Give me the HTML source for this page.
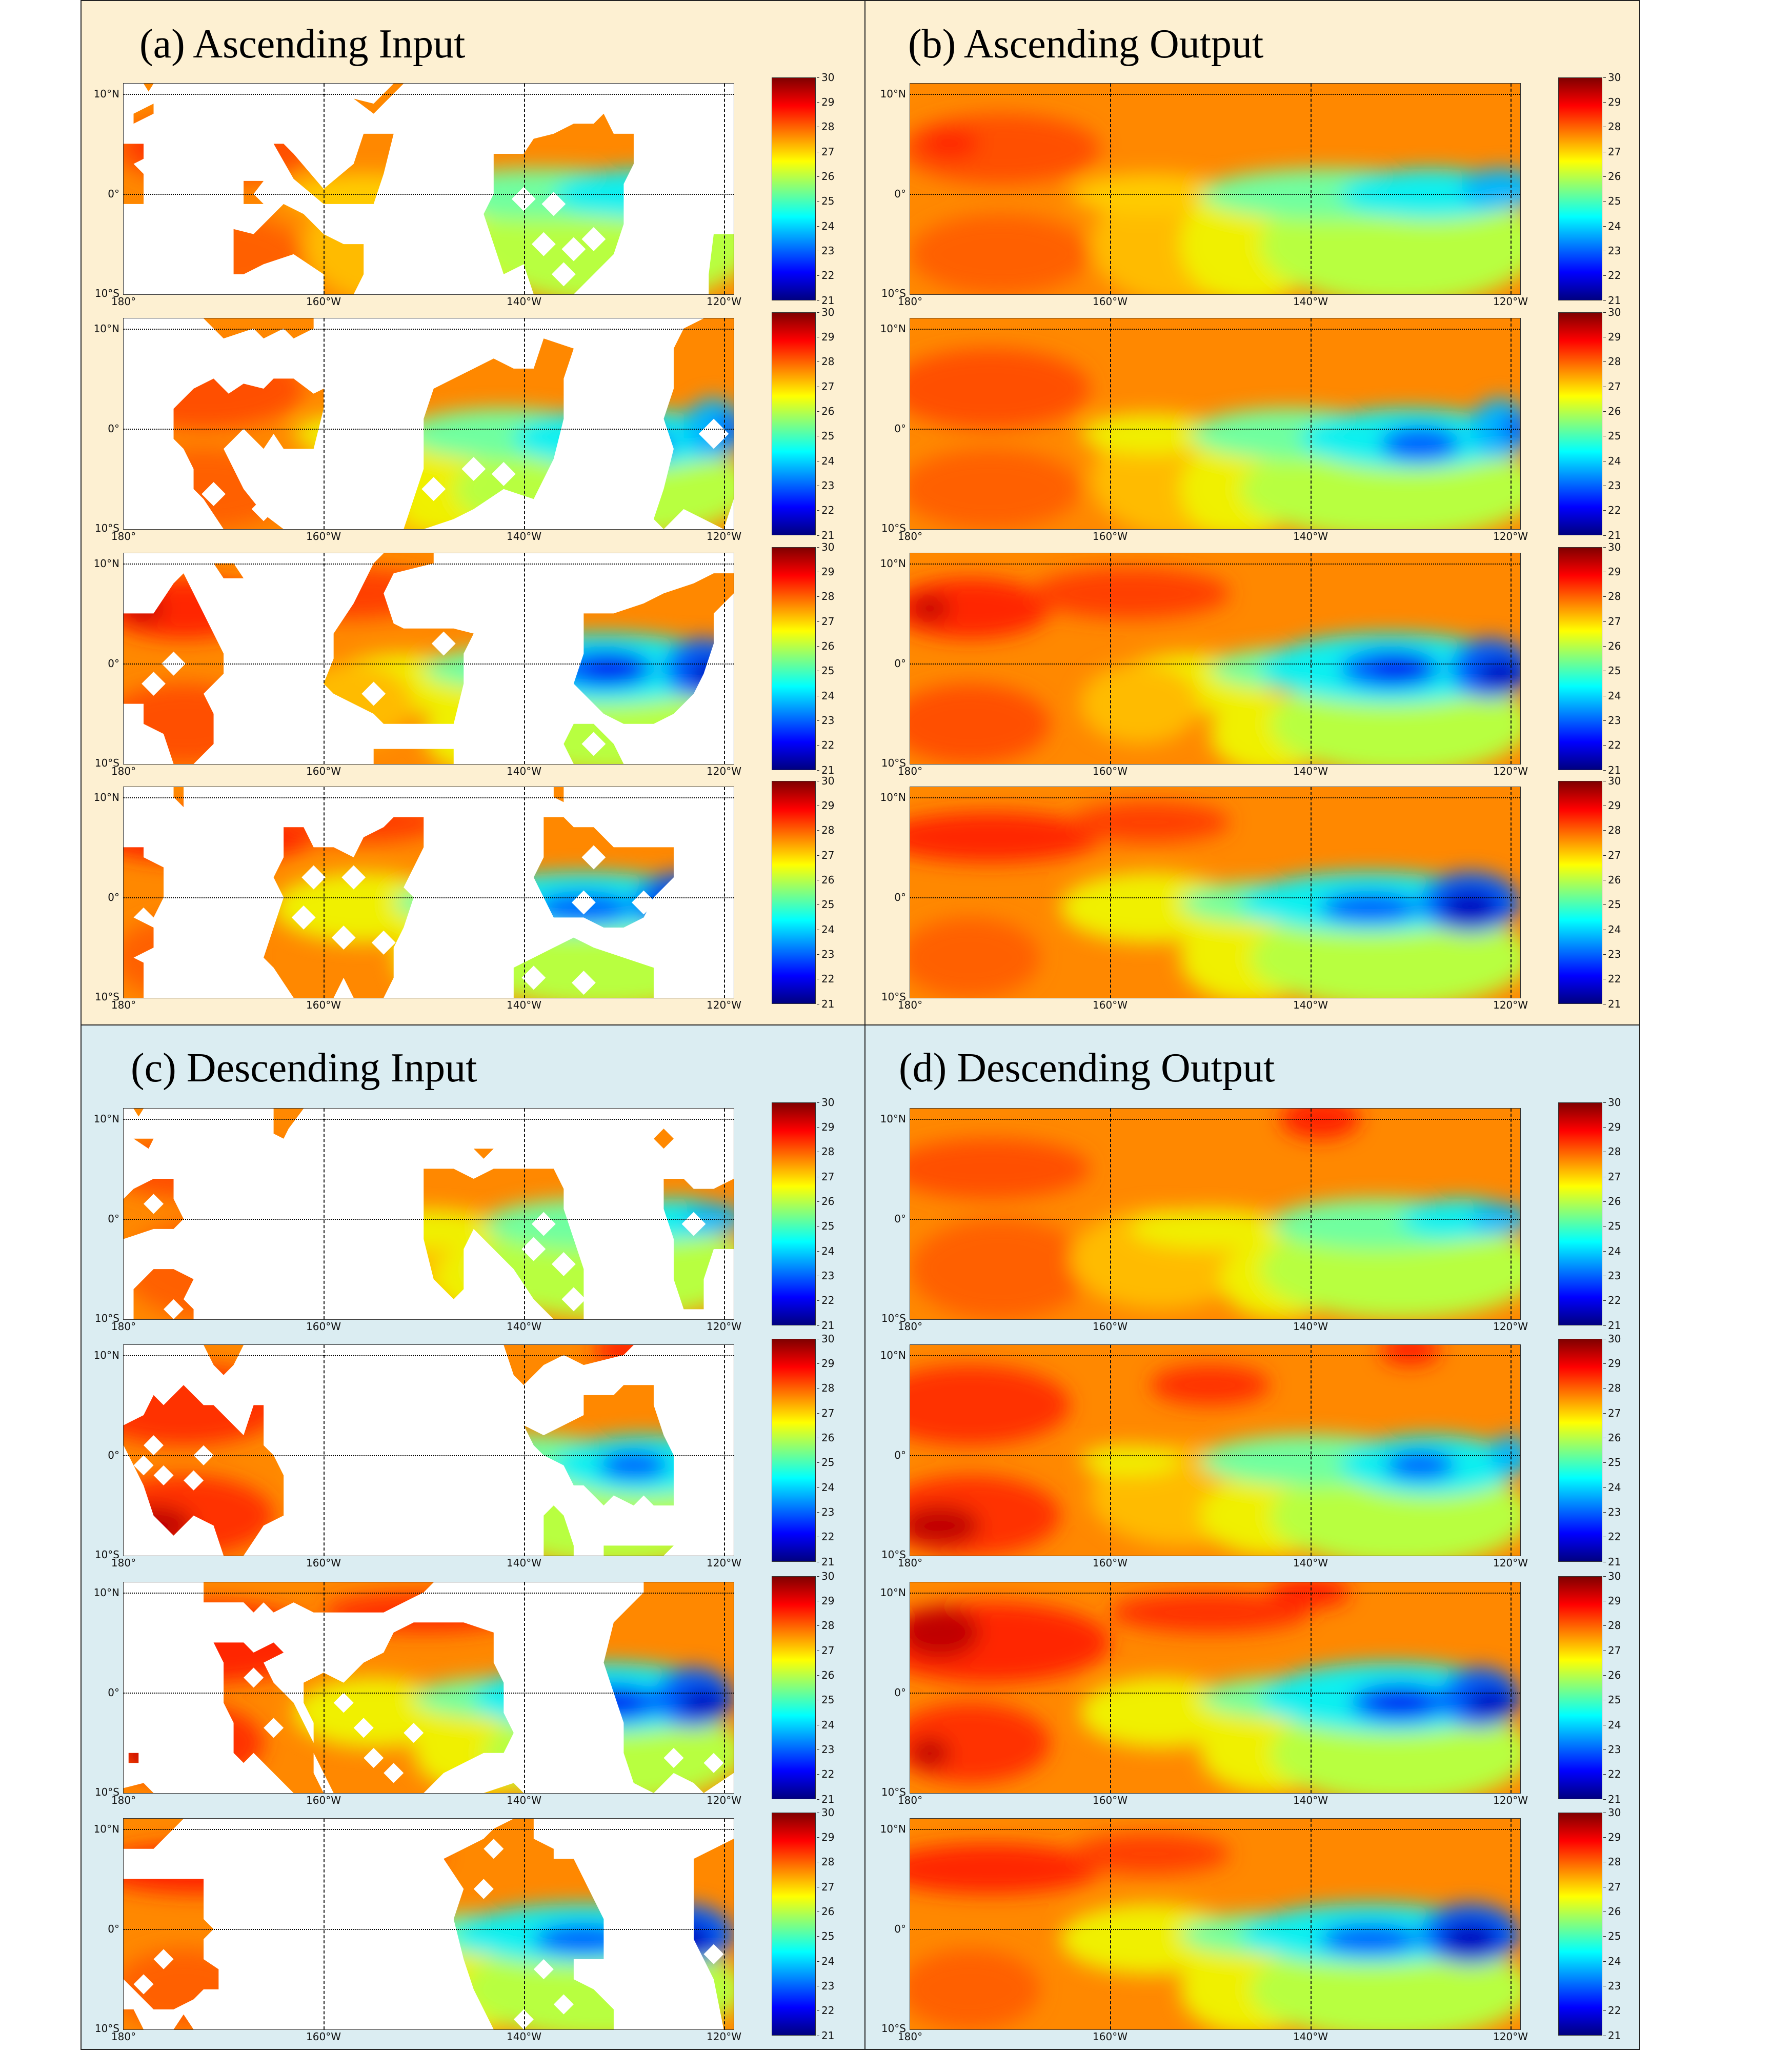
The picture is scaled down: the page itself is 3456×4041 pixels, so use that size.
<!DOCTYPE html>
<html><head><meta charset="utf-8"><style>
body{margin:0;width:3456px;height:4041px;background:#fff;position:relative;overflow:hidden;font-family:"DejaVu Sans",sans-serif}
.p{position:absolute;box-sizing:border-box;border:2px solid #222}
.t{position:absolute;font-family:"Liberation Serif",serif;font-size:80px;color:#000;white-space:nowrap;line-height:1}
.m{position:absolute;width:1190px;height:411px}
.m svg{position:absolute;left:0;top:0;width:1190px;height:411px}
.fr{position:absolute;left:-1px;top:-1px;width:1190px;height:411px;border:1px solid #333}
.h{position:absolute;left:0;width:1190px;height:0;border-top:2px dotted #000}
.v{position:absolute;top:0;height:411px;width:0;border-left:2px dashed #111}
.la{position:absolute;right:1198px;font-size:20px;line-height:24px;color:#111;white-space:nowrap}
.lo{position:absolute;top:413px;width:120px;margin-left:-60px;text-align:center;font-size:20px;line-height:24px;color:#111}
.cb{position:absolute;left:1264px;top:-12px;width:86px;height:435px;border:1px solid #333;box-sizing:border-box;background:linear-gradient(#800000 0%,#ff0000 12.5%,#ffff00 37.5%,#80ff80 50%,#00ffff 62.5%,#0000ff 87.5%,#000080 100%)}
.cl{position:absolute;left:1352px;top:-36.2px;font-size:20px;color:#111}
.cl span{display:block;height:48.33px;line-height:48.33px;position:relative;padding-left:9px}
.cl span:before{content:"";position:absolute;left:0;top:24px;width:5px;border-top:1.5px solid #222}
</style></head><body>
<svg width="0" height="0" style="position:absolute"><defs>
<filter id="bl" filterUnits="userSpaceOnUse" x="-10" y="-10" width="81" height="41"><feGaussianBlur stdDeviation="1"/></filter>
<g id="fB1"><rect x="-1" y="-1" width="63" height="23" fill="#ff8800"/><g filter="url(#bl)">
<ellipse cx="9" cy="6.5" rx="10" ry="3.5" fill="#ff5000"/><ellipse cx="4" cy="6" rx="3" ry="1.5" fill="#ff2800"/><ellipse cx="9" cy="17" rx="9" ry="4" fill="#ff6000"/>
<ellipse cx="27" cy="16" rx="9" ry="6" fill="#ffbb00"/><ellipse cx="24" cy="11" rx="8" ry="2" fill="#ffcc00"/><ellipse cx="34" cy="16" rx="7" ry="6" fill="#f0f000"/>
<ellipse cx="49" cy="16" rx="14" ry="6" fill="#b8ff40"/><ellipse cx="42" cy="11" rx="13" ry="2.5" fill="#70ffa0"/><ellipse cx="52" cy="11" rx="9" ry="2.5" fill="#10f0f0"/><ellipse cx="59" cy="10.5" rx="4" ry="2" fill="#00b8ff"/></g></g>
<g id="fB2"><rect x="-1" y="-1" width="63" height="23" fill="#ff8800"/><g filter="url(#bl)">
<ellipse cx="8" cy="7" rx="10" ry="4" fill="#ff5000"/><ellipse cx="8" cy="17" rx="9" ry="4" fill="#ff6000"/>
<ellipse cx="28" cy="16" rx="10" ry="6" fill="#ffbb00"/><ellipse cx="33" cy="17" rx="6" ry="5" fill="#f0f000"/><ellipse cx="24" cy="11.5" rx="7" ry="2" fill="#f0f000"/>
<ellipse cx="48" cy="17" rx="15" ry="5" fill="#b8ff40"/><ellipse cx="38" cy="11.5" rx="10" ry="2.5" fill="#70ffa0"/><ellipse cx="50" cy="12" rx="11" ry="3" fill="#10f0f0"/>
<ellipse cx="51" cy="12.5" rx="4" ry="1.8" fill="#0060ff"/><ellipse cx="59" cy="11" rx="3" ry="3" fill="#00b8ff"/><ellipse cx="60.5" cy="11" rx="1.5" ry="1.5" fill="#0060ff"/></g></g>
<g id="fB3"><rect x="-1" y="-1" width="63" height="23" fill="#ff8800"/><g filter="url(#bl)">
<ellipse cx="6" cy="5.5" rx="8" ry="3" fill="#ff2800"/><ellipse cx="2" cy="5.5" rx="2" ry="1.2" fill="#c00000"/><ellipse cx="22" cy="4" rx="10" ry="2.5" fill="#ff4000"/>
<ellipse cx="6" cy="17" rx="8" ry="4" fill="#ff5000"/><ellipse cx="28" cy="13" rx="8" ry="3" fill="#f0f000"/><ellipse cx="23" cy="15" rx="6" ry="4" fill="#ffbb00"/><ellipse cx="36" cy="18" rx="6" ry="4" fill="#f0f000"/>
<ellipse cx="49" cy="17" rx="13" ry="5" fill="#b8ff40"/><ellipse cx="38" cy="11.5" rx="8" ry="2" fill="#70ffa0"/><ellipse cx="48" cy="11.5" rx="13" ry="3.5" fill="#10f0f0"/>
<ellipse cx="48" cy="11.5" rx="5" ry="2" fill="#0060ff"/><ellipse cx="49" cy="11.5" rx="3" ry="1.2" fill="#0018f0"/><ellipse cx="58" cy="11.5" rx="4" ry="3" fill="#0060ff"/><ellipse cx="59" cy="12" rx="2.5" ry="1.5" fill="#0000c0"/></g></g>
<g id="fB4"><rect x="-1" y="-1" width="63" height="23" fill="#ff8800"/><g filter="url(#bl)">
<ellipse cx="8" cy="5" rx="11" ry="2.5" fill="#ff2800"/><ellipse cx="24" cy="3.5" rx="8" ry="2" fill="#ff4000"/><ellipse cx="6" cy="17" rx="7" ry="4" fill="#ff6000"/>
<ellipse cx="24" cy="12" rx="9" ry="3.5" fill="#f0f000"/><ellipse cx="34" cy="17" rx="7" ry="4.5" fill="#f0f000"/><ellipse cx="48" cy="17" rx="14" ry="5" fill="#b8ff40"/>
<ellipse cx="35" cy="11.5" rx="8" ry="2" fill="#70ffa0"/><ellipse cx="46" cy="11.5" rx="13" ry="3" fill="#10f0f0"/><ellipse cx="46" cy="12" rx="5" ry="1.6" fill="#0060ff"/>
<ellipse cx="56" cy="11.5" rx="5" ry="3" fill="#0060ff"/><ellipse cx="56" cy="12" rx="3" ry="1.8" fill="#0000c0"/></g></g>
<g id="fD1"><rect x="-1" y="-1" width="63" height="23" fill="#ff8800"/><g filter="url(#bl)">
<ellipse cx="8" cy="6" rx="10" ry="3" fill="#ff5000"/><ellipse cx="41" cy="1" rx="4" ry="2" fill="#ff2000"/><ellipse cx="9" cy="16" rx="9" ry="5" fill="#ff6000"/>
<ellipse cx="25" cy="15" rx="9" ry="5" fill="#ffbb00"/><ellipse cx="30" cy="12" rx="8" ry="2" fill="#f0f000"/><ellipse cx="37" cy="17" rx="6" ry="4" fill="#f0f000"/>
<ellipse cx="49" cy="16" rx="14" ry="5" fill="#b8ff40"/><ellipse cx="47" cy="11.5" rx="11" ry="2.5" fill="#70ffa0"/><ellipse cx="55" cy="11" rx="6" ry="2" fill="#10f0f0"/><ellipse cx="59" cy="11" rx="3" ry="1.5" fill="#00b8ff"/></g></g>
<g id="fD2"><rect x="-1" y="-1" width="63" height="23" fill="#ff8800"/><g filter="url(#bl)">
<ellipse cx="6" cy="6" rx="10" ry="4" fill="#ff3000"/><ellipse cx="30" cy="4" rx="6" ry="2" fill="#ff3000"/><ellipse cx="50" cy="0.5" rx="3" ry="1.5" fill="#ff2000"/>
<ellipse cx="6" cy="17" rx="9" ry="4" fill="#ff3000"/><ellipse cx="3" cy="18" rx="4" ry="2" fill="#c00000"/>
<ellipse cx="27" cy="15" rx="9" ry="5" fill="#ffbb00"/><ellipse cx="36" cy="17" rx="7" ry="4" fill="#f0f000"/><ellipse cx="22" cy="11.5" rx="5" ry="1.5" fill="#f0f000"/>
<ellipse cx="49" cy="17" rx="13" ry="5" fill="#b8ff40"/><ellipse cx="40" cy="11.5" rx="11" ry="2.5" fill="#70ffa0"/><ellipse cx="52" cy="12" rx="9" ry="3" fill="#10f0f0"/>
<ellipse cx="51" cy="12" rx="3.5" ry="1.5" fill="#0060ff"/><ellipse cx="60" cy="11" rx="2" ry="2" fill="#00b8ff"/></g></g>
<g id="fD3"><rect x="-1" y="-1" width="63" height="23" fill="#ff8800"/><g filter="url(#bl)">
<ellipse cx="8" cy="6" rx="12" ry="4" fill="#ff2800"/><ellipse cx="3" cy="5" rx="4" ry="2.5" fill="#c00000"/><ellipse cx="30" cy="3" rx="10" ry="2" fill="#ff3000"/><ellipse cx="40" cy="1" rx="4" ry="1.5" fill="#ff2000"/>
<ellipse cx="6" cy="16" rx="8" ry="4" fill="#ff3000"/><ellipse cx="2" cy="17" rx="2" ry="1.5" fill="#c00000"/>
<ellipse cx="25" cy="13" rx="8" ry="3.5" fill="#f0f000"/><ellipse cx="36" cy="17" rx="7" ry="4" fill="#f0f000"/><ellipse cx="49" cy="17" rx="13" ry="5" fill="#b8ff40"/>
<ellipse cx="38" cy="11.5" rx="9" ry="2" fill="#70ffa0"/><ellipse cx="48" cy="11.5" rx="13" ry="3.5" fill="#10f0f0"/><ellipse cx="49" cy="12" rx="5" ry="2" fill="#0060ff"/><ellipse cx="49" cy="12" rx="3" ry="1" fill="#0018f0"/>
<ellipse cx="57" cy="11.5" rx="4" ry="3" fill="#0060ff"/><ellipse cx="58" cy="12" rx="2.5" ry="1.5" fill="#0000c0"/></g></g>

<mask id="mA1" maskUnits="userSpaceOnUse" x="0" y="0" width="61" height="21"><path fill="#fff" d="M0 6L2 6L2 7.5L1 8L2 9L2 12L0 12ZM2 0L3 0L2.5 .8ZM1 3L3 2L3 3L1 4ZM12 9.7L14 9.7L13 11L14 12L12 12ZM15 6L16 6L17 7L20 10.5L23 8L24 5L27 5L26 9L25 12L20 12L17 9.5ZM23 1.5L25 2L27 0L28 0L25 3ZM11 14.5L13 15L15 13L16 12L18 13L20 15L22 16L24 16L24 19L23 21L20 21L20 19L17 17L14 18L12 19L11 19ZM37 7L40 7L41 5.5L43 5L45 4L47 4L48 3L49 5L51 5L51 8L50 10L50 14L49 17L47 19L45 21L41 21L40 18L38 19L37 16L36 13L37 11ZM59 15L61 15L61 21L58.5 21L58.5 19Z"/><path fill="#000" d="M38.8 11.5L40 10.3L41.2 11.5L40 12.7ZM41.8 12L43 10.8L44.2 12L43 13.2ZM40.8 16L42 14.8L43.2 16L42 17.2ZM43.8 16.5L45 15.3L46.2 16.5L45 17.7ZM45.8 15.5L47 14.3L48.2 15.5L47 16.7ZM42.8 19L44 17.8L45.2 19L44 20.2Z"/></mask>
<mask id="mA2" maskUnits="userSpaceOnUse" x="0" y="0" width="61" height="21"><path fill="#fff" d="M8 0L19 0L19 1L17 2L16 1L14 2L13 1L10 2L9 1ZM7 7L9 6L10.5 7.5L12 6.5L14 7L15 6L17 6L19 7.5L20 7L20 9L19 13L16 13L15 11.5L14 13L12 11L10 13L11 15L12 17L14 19.5L16 21L10 21L8 18L7 17L7 15L6 13L5 12L5 9ZM31 7L33 6L35 5L37 4L39 5L41 5L42 2L45 3L44 6L44 10L43 14L42 16L41 18L38 17L35 19L33 20L30 21L28 21L29 18L30 15L30 10ZM55 3L56 1L58 0L61 0L61 18L60 21L58 20L56 19L54 21L53 20L54 17L55 13L54 10L55 7Z"/><path fill="#000" d="M7.8 17.5L9 16.3L10.2 17.5L9 18.7ZM12.8 19L14 17.8L15.2 19L14 20.2ZM29.8 17L31 15.8L32.2 17L31 18.2ZM33.8 15L35 13.8L36.2 15L35 16.2ZM36.8 15.5L38 14.3L39.2 15.5L38 16.7ZM57.5 11.5L59 10L60.5 11.5L59 13Z"/></mask>
<mask id="mA3" maskUnits="userSpaceOnUse" x="0" y="0" width="61" height="21"><path fill="#fff" d="M0 6L3 6L5 3L6 2L7 4L8 6L9 8L10 10L10 12L8 14L9 16L9 19L7 21L5 21L4 18L2 17L2 15L0 15ZM9 1L11 1L12 2.5L10 2.5ZM23 5L24 3L25 1L26 0L31 0L31 1L27 2L26 4L27 7L28 7.5L33 7.5L35 8L34 10L34 13L33 17L26 17L25 16L21 14L20 13L21 10.5L21 8ZM25 19.5L33 19.5L33 21L25 21ZM46 6L49 6L52 5L54 4L57 3L59 2L61 2L61 4L59 6L59 9L58 12L57 14L55 16L53 17L50 17L48 16L46 14L45 13L46 10ZM45 17L47 17L49 19L50 21L45 21L44 19Z"/><path fill="#000" d="M3.8 11L5 9.8L6.2 11L5 12.2ZM1.8 13L3 11.8L4.2 13L3 14.2ZM30.8 9L32 7.8L33.2 9L32 10.2ZM23.8 14L25 12.8L26.2 14L25 15.2ZM45.8 19L47 17.8L48.2 19L47 20.2Z"/></mask>
<mask id="mA4" maskUnits="userSpaceOnUse" x="0" y="0" width="61" height="21"><path fill="#fff" d="M5 0L6 0L6 2L5 1ZM0 6L2 6L2 7L4 8L4 11L3 13L2 12L1 13L3 14L3 16L1 17L2 17.5L2 21L0 21ZM16 4L18 4L19 6L21 6L23 7L24 5L26 4L27 3L30 3L30 6L29 8L28 10L29 11L28 14L27 16L27 19L26 21L23 21L22 19L21 21L17 21L15 18L14 17L15 14L16 11L15 9L16 7ZM43 0L44 0L44 1.5L43 1ZM42 3L44 3L45 4L47 4L49 6L51 6L55 6L55 9L53 11L52 13L50 14L48 14L46 13L43 13L42 11L41 9L42 7ZM39 18L41 17L43 16L45 15L47 16L50 17L53 18L53 21L39 21Z"/><path fill="#000" d="M17.8 9L19 7.8L20.2 9L19 10.2ZM21.8 9L23 7.8L24.2 9L23 10.2ZM20.8 15L22 13.8L23.2 15L22 16.2ZM24.8 15.5L26 14.3L27.2 15.5L26 16.7ZM16.8 13L18 11.8L19.2 13L18 14.2ZM45.8 7L47 5.8L48.2 7L47 8.2ZM44.8 11.5L46 10.3L47.2 11.5L46 12.7ZM50.8 11.5L52 10.3L53.2 11.5L52 12.7ZM39.8 19L41 17.8L42.2 19L41 20.2ZM44.8 19.5L46 18.3L47.2 19.5L46 20.7Z"/></mask>
<mask id="mC1" maskUnits="userSpaceOnUse" x="0" y="0" width="61" height="21"><path fill="#fff" d="M1 0L2 0L1.5 .8ZM1 3L3 3L2.5 4ZM15 0L18 0L16.5 2L16 3L15 2.5ZM1 8L3 7L5 7L5 9L6 11L5 12L3 12L0 13L0 9ZM1 18L3 16L5 16L7 17L6 19L7 20L7 21L1 21ZM35 4L37 4L36 5ZM30 6L33 6L35 7L37 6L39 6L41 6L43 6L44 8L44 10L45 13L46 16L46 21L43 21L41 19L39 16L37 14L35 12L34 14L34 18L33 19L31 17L30 13L30 10ZM53 3L54 2L55 3L54 4ZM54 7L56 7L57 8L59 8L61 7L61 14L59 14L58 17L58 20L56 20L55 17L55 13L54 10Z"/><path fill="#000" d="M2 9.5L3 8.5L4 9.5L3 10.5ZM4 20L5 19L6 20L5 21ZM40.8 11.5L42 10.3L43.2 11.5L42 12.7ZM39.8 14L41 12.8L42.2 14L41 15.2ZM42.8 15.5L44 14.3L45.2 15.5L44 16.7ZM43.8 19L45 17.8L46.2 19L45 20.2ZM55.8 11.5L57 10.3L58.2 11.5L57 12.7Z"/></mask>
<mask id="mC2" maskUnits="userSpaceOnUse" x="0" y="0" width="61" height="21"><path fill="#fff" d="M0 8L2 7L3 5L4 6L5 5L6 4L7 5L8 6L9 6L10 7L11 8L12 9L13 6L14 6L14 10L15 11L16 13L16 17L14 18L12 21L10 21L9 18L7 17L6 18L5 19L4 18L3 17L2 14L1 12L0 10ZM8 0L12 0L11 2L10 3L9 2ZM38 0L51 0L50 1L46 2L44 1L42 2L40 4L39 3ZM40 8L42 9L44 8L46 7L46 5L49 5L50 4L53 4L53 6L54 9L55 11L55 16L53 16L52 15L51 16L49 15L48 16L46 14L45 14L44 12L42 11L41 10ZM42 17L43 16L44 17L45 20L45 21L42 21ZM48 20L55 20L54 21L48 21Z"/><path fill="#000" d="M2 10L3 9L4 10L3 11ZM1 12L2 11L3 12L2 13ZM3 13L4 12L5 13L4 14ZM6 13.5L7 12.5L8 13.5L7 14.5ZM7 11L8 10L9 11L8 12Z"/></mask>
<mask id="mC3" maskUnits="userSpaceOnUse" x="0" y="0" width="61" height="21"><path fill="#fff" d="M8 0L31 0L30 1L28 2L26 3L23 3L19 3L17 2L15 3L14 2L13 3L12 2L10 2L8 2ZM9 6L12 6L13 7L15 6L16 7L14 8L15 10L17 12L18 14L19 16L19 19L20 21L17 21L15 19L13 17L12 18L11 17L11 14L10 12L10 8ZM18 10L20 9L22 10L24 8L26 7L27 5L29 4L32 4L34 4L37 5L37 8L38 10L38 13L39 15L38 17L36 17L34 18L32 19L30 21L24 21L21 21L20 19L19 17L19 14L18 12ZM36 21L39 20L40 21ZM49 4L50 3L51 2L52 1L52 0L61 0L61 19L58 21L57 20L55 19L53 21L51 20L50 17L50 14L49 11L48 8ZM.5 17L1.5 17L1.5 18L.5 18ZM0 20.5L2 20L3 21L0 21Z"/><path fill="#000" d="M12 9.5L13 8.5L14 9.5L13 10.5ZM14 14.5L15 13.5L16 14.5L15 15.5ZM21 12L22 11L23 12L22 13ZM23 14.5L24 13.5L25 14.5L24 15.5ZM28 15L29 14L30 15L29 16ZM24 17.5L25 16.5L26 17.5L25 18.5ZM26 19L27 18L28 19L27 20ZM54 17.5L55 16.5L56 17.5L55 18.5ZM58 18L59 17L60 18L59 19Z"/></mask>
<mask id="mC4" maskUnits="userSpaceOnUse" x="0" y="0" width="61" height="21"><path fill="#fff" d="M0 0L6 0L4 2L3 3L0 3ZM0 6L8 6L8 10L9 11L8 12L8 14L9.5 15L9.5 17L8 17L7 18L5 19L3 19L2 18L0 16ZM0 19L1 19L2 21L0 21ZM5 21L6 19.5L7 21ZM34 3L36 2L37 1L39 0L41 0L41 2L43 3L43 4L45 4L46 6L47 8L48 10L48 12L48 14L45 14L45 16L47 17L49 19L49 21L37 21L36 19L35 17L34 14L33 10L34 7L32 4ZM57 4L59 3L61 2L61 21L60 21L59 16L58 14L57 12Z"/><path fill="#000" d="M1 16.5L2 15.5L3 16.5L2 17.5ZM3 14L4 13L5 14L4 15ZM36 3L37 2L38 3L37 4ZM35 7L36 6L37 7L36 8ZM41 15L42 14L43 15L42 16ZM43 18.5L44 17.5L45 18.5L44 19.5ZM39 20L40 19L41 20L40 21ZM58 13.5L59 12.5L60 13.5L59 14.5Z"/></mask>
</defs></svg>

<div class="p" style="left:157px;top:0;width:1531px;height:2000px;background:#fdf0d2"></div>
<div class="p" style="left:1686px;top:0;width:1513px;height:2000px;background:#fdf0d2"></div>
<div class="p" style="left:157px;top:1998px;width:1531px;height:2000px;background:#dbedf2"></div>
<div class="p" style="left:1686px;top:1998px;width:1513px;height:2000px;background:#dbedf2"></div>
<div class="t" style="left:272px;top:46px">(a) Ascending Input</div>
<div class="t" style="left:1771px;top:46px">(b) Ascending Output</div>
<div class="t" style="left:255px;top:2043px">(c) Descending Input</div>
<div class="t" style="left:1753px;top:2043px">(d) Descending Output</div>

<!-- A -->
<div class="m" style="left:241px;top:163px"><svg viewBox="0 0 61 21" preserveAspectRatio="none"><rect width="61" height="21" fill="#fff"/><use href="#fB1" mask="url(#mA1)"/></svg><i class="h" style="top:20px"></i><i class="h" style="top:215px"></i><i class="v" style="left:390px"></i><i class="v" style="left:781px"></i><i class="v" style="left:1171px"></i><i class="fr"></i><span class="la" style="top:8px">10°N</span><span class="la" style="top:203px">0°</span><span class="la" style="top:397px">10°S</span><span class="lo" style="left:0">180°</span><span class="lo" style="left:390px">160°W</span><span class="lo" style="left:781px">140°W</span><span class="lo" style="left:1171px">120°W</span><div class="cb"></div><div class="cl"><span>30</span><span>29</span><span>28</span><span>27</span><span>26</span><span>25</span><span>24</span><span>23</span><span>22</span><span>21</span></div></div>
<div class="m" style="left:241px;top:621px"><svg viewBox="0 0 61 21" preserveAspectRatio="none"><rect width="61" height="21" fill="#fff"/><use href="#fB2" mask="url(#mA2)"/></svg><i class="h" style="top:20px"></i><i class="h" style="top:215px"></i><i class="v" style="left:390px"></i><i class="v" style="left:781px"></i><i class="v" style="left:1171px"></i><i class="fr"></i><span class="la" style="top:8px">10°N</span><span class="la" style="top:203px">0°</span><span class="la" style="top:397px">10°S</span><span class="lo" style="left:0">180°</span><span class="lo" style="left:390px">160°W</span><span class="lo" style="left:781px">140°W</span><span class="lo" style="left:1171px">120°W</span><div class="cb"></div><div class="cl"><span>30</span><span>29</span><span>28</span><span>27</span><span>26</span><span>25</span><span>24</span><span>23</span><span>22</span><span>21</span></div></div>
<div class="m" style="left:241px;top:1079px"><svg viewBox="0 0 61 21" preserveAspectRatio="none"><rect width="61" height="21" fill="#fff"/><use href="#fB3" mask="url(#mA3)"/></svg><i class="h" style="top:20px"></i><i class="h" style="top:215px"></i><i class="v" style="left:390px"></i><i class="v" style="left:781px"></i><i class="v" style="left:1171px"></i><i class="fr"></i><span class="la" style="top:8px">10°N</span><span class="la" style="top:203px">0°</span><span class="la" style="top:397px">10°S</span><span class="lo" style="left:0">180°</span><span class="lo" style="left:390px">160°W</span><span class="lo" style="left:781px">140°W</span><span class="lo" style="left:1171px">120°W</span><div class="cb"></div><div class="cl"><span>30</span><span>29</span><span>28</span><span>27</span><span>26</span><span>25</span><span>24</span><span>23</span><span>22</span><span>21</span></div></div>
<div class="m" style="left:241px;top:1535px"><svg viewBox="0 0 61 21" preserveAspectRatio="none"><rect width="61" height="21" fill="#fff"/><use href="#fB4" mask="url(#mA4)"/></svg><i class="h" style="top:20px"></i><i class="h" style="top:215px"></i><i class="v" style="left:390px"></i><i class="v" style="left:781px"></i><i class="v" style="left:1171px"></i><i class="fr"></i><span class="la" style="top:8px">10°N</span><span class="la" style="top:203px">0°</span><span class="la" style="top:397px">10°S</span><span class="lo" style="left:0">180°</span><span class="lo" style="left:390px">160°W</span><span class="lo" style="left:781px">140°W</span><span class="lo" style="left:1171px">120°W</span><div class="cb"></div><div class="cl"><span>30</span><span>29</span><span>28</span><span>27</span><span>26</span><span>25</span><span>24</span><span>23</span><span>22</span><span>21</span></div></div>
<!-- B -->
<div class="m" style="left:1775px;top:163px"><svg viewBox="0 0 61 21" preserveAspectRatio="none"><use href="#fB1"/></svg><i class="h" style="top:20px"></i><i class="h" style="top:215px"></i><i class="v" style="left:390px"></i><i class="v" style="left:781px"></i><i class="v" style="left:1171px"></i><i class="fr"></i><span class="la" style="top:8px">10°N</span><span class="la" style="top:203px">0°</span><span class="la" style="top:397px">10°S</span><span class="lo" style="left:0">180°</span><span class="lo" style="left:390px">160°W</span><span class="lo" style="left:781px">140°W</span><span class="lo" style="left:1171px">120°W</span><div class="cb"></div><div class="cl"><span>30</span><span>29</span><span>28</span><span>27</span><span>26</span><span>25</span><span>24</span><span>23</span><span>22</span><span>21</span></div></div>
<div class="m" style="left:1775px;top:621px"><svg viewBox="0 0 61 21" preserveAspectRatio="none"><use href="#fB2"/></svg><i class="h" style="top:20px"></i><i class="h" style="top:215px"></i><i class="v" style="left:390px"></i><i class="v" style="left:781px"></i><i class="v" style="left:1171px"></i><i class="fr"></i><span class="la" style="top:8px">10°N</span><span class="la" style="top:203px">0°</span><span class="la" style="top:397px">10°S</span><span class="lo" style="left:0">180°</span><span class="lo" style="left:390px">160°W</span><span class="lo" style="left:781px">140°W</span><span class="lo" style="left:1171px">120°W</span><div class="cb"></div><div class="cl"><span>30</span><span>29</span><span>28</span><span>27</span><span>26</span><span>25</span><span>24</span><span>23</span><span>22</span><span>21</span></div></div>
<div class="m" style="left:1775px;top:1079px"><svg viewBox="0 0 61 21" preserveAspectRatio="none"><use href="#fB3"/></svg><i class="h" style="top:20px"></i><i class="h" style="top:215px"></i><i class="v" style="left:390px"></i><i class="v" style="left:781px"></i><i class="v" style="left:1171px"></i><i class="fr"></i><span class="la" style="top:8px">10°N</span><span class="la" style="top:203px">0°</span><span class="la" style="top:397px">10°S</span><span class="lo" style="left:0">180°</span><span class="lo" style="left:390px">160°W</span><span class="lo" style="left:781px">140°W</span><span class="lo" style="left:1171px">120°W</span><div class="cb"></div><div class="cl"><span>30</span><span>29</span><span>28</span><span>27</span><span>26</span><span>25</span><span>24</span><span>23</span><span>22</span><span>21</span></div></div>
<div class="m" style="left:1775px;top:1535px"><svg viewBox="0 0 61 21" preserveAspectRatio="none"><use href="#fB4"/></svg><i class="h" style="top:20px"></i><i class="h" style="top:215px"></i><i class="v" style="left:390px"></i><i class="v" style="left:781px"></i><i class="v" style="left:1171px"></i><i class="fr"></i><span class="la" style="top:8px">10°N</span><span class="la" style="top:203px">0°</span><span class="la" style="top:397px">10°S</span><span class="lo" style="left:0">180°</span><span class="lo" style="left:390px">160°W</span><span class="lo" style="left:781px">140°W</span><span class="lo" style="left:1171px">120°W</span><div class="cb"></div><div class="cl"><span>30</span><span>29</span><span>28</span><span>27</span><span>26</span><span>25</span><span>24</span><span>23</span><span>22</span><span>21</span></div></div>
<!-- C -->
<div class="m" style="left:241px;top:2162px"><svg viewBox="0 0 61 21" preserveAspectRatio="none"><rect width="61" height="21" fill="#fff"/><use href="#fD1" mask="url(#mC1)"/></svg><i class="h" style="top:20px"></i><i class="h" style="top:215px"></i><i class="v" style="left:390px"></i><i class="v" style="left:781px"></i><i class="v" style="left:1171px"></i><i class="fr"></i><span class="la" style="top:8px">10°N</span><span class="la" style="top:203px">0°</span><span class="la" style="top:397px">10°S</span><span class="lo" style="left:0">180°</span><span class="lo" style="left:390px">160°W</span><span class="lo" style="left:781px">140°W</span><span class="lo" style="left:1171px">120°W</span><div class="cb"></div><div class="cl"><span>30</span><span>29</span><span>28</span><span>27</span><span>26</span><span>25</span><span>24</span><span>23</span><span>22</span><span>21</span></div></div>
<div class="m" style="left:241px;top:2623px"><svg viewBox="0 0 61 21" preserveAspectRatio="none"><rect width="61" height="21" fill="#fff"/><use href="#fD2" mask="url(#mC2)"/></svg><i class="h" style="top:20px"></i><i class="h" style="top:215px"></i><i class="v" style="left:390px"></i><i class="v" style="left:781px"></i><i class="v" style="left:1171px"></i><i class="fr"></i><span class="la" style="top:8px">10°N</span><span class="la" style="top:203px">0°</span><span class="la" style="top:397px">10°S</span><span class="lo" style="left:0">180°</span><span class="lo" style="left:390px">160°W</span><span class="lo" style="left:781px">140°W</span><span class="lo" style="left:1171px">120°W</span><div class="cb"></div><div class="cl"><span>30</span><span>29</span><span>28</span><span>27</span><span>26</span><span>25</span><span>24</span><span>23</span><span>22</span><span>21</span></div></div>
<div class="m" style="left:241px;top:3086px"><svg viewBox="0 0 61 21" preserveAspectRatio="none"><rect width="61" height="21" fill="#fff"/><use href="#fD3" mask="url(#mC3)"/></svg><i class="h" style="top:20px"></i><i class="h" style="top:215px"></i><i class="v" style="left:390px"></i><i class="v" style="left:781px"></i><i class="v" style="left:1171px"></i><i class="fr"></i><span class="la" style="top:8px">10°N</span><span class="la" style="top:203px">0°</span><span class="la" style="top:397px">10°S</span><span class="lo" style="left:0">180°</span><span class="lo" style="left:390px">160°W</span><span class="lo" style="left:781px">140°W</span><span class="lo" style="left:1171px">120°W</span><div class="cb"></div><div class="cl"><span>30</span><span>29</span><span>28</span><span>27</span><span>26</span><span>25</span><span>24</span><span>23</span><span>22</span><span>21</span></div></div>
<div class="m" style="left:241px;top:3547px"><svg viewBox="0 0 61 21" preserveAspectRatio="none"><rect width="61" height="21" fill="#fff"/><use href="#fB4" mask="url(#mC4)"/></svg><i class="h" style="top:20px"></i><i class="h" style="top:215px"></i><i class="v" style="left:390px"></i><i class="v" style="left:781px"></i><i class="v" style="left:1171px"></i><i class="fr"></i><span class="la" style="top:8px">10°N</span><span class="la" style="top:203px">0°</span><span class="la" style="top:397px">10°S</span><span class="lo" style="left:0">180°</span><span class="lo" style="left:390px">160°W</span><span class="lo" style="left:781px">140°W</span><span class="lo" style="left:1171px">120°W</span><div class="cb"></div><div class="cl"><span>30</span><span>29</span><span>28</span><span>27</span><span>26</span><span>25</span><span>24</span><span>23</span><span>22</span><span>21</span></div></div>
<!-- D -->
<div class="m" style="left:1775px;top:2162px"><svg viewBox="0 0 61 21" preserveAspectRatio="none"><use href="#fD1"/></svg><i class="h" style="top:20px"></i><i class="h" style="top:215px"></i><i class="v" style="left:390px"></i><i class="v" style="left:781px"></i><i class="v" style="left:1171px"></i><i class="fr"></i><span class="la" style="top:8px">10°N</span><span class="la" style="top:203px">0°</span><span class="la" style="top:397px">10°S</span><span class="lo" style="left:0">180°</span><span class="lo" style="left:390px">160°W</span><span class="lo" style="left:781px">140°W</span><span class="lo" style="left:1171px">120°W</span><div class="cb"></div><div class="cl"><span>30</span><span>29</span><span>28</span><span>27</span><span>26</span><span>25</span><span>24</span><span>23</span><span>22</span><span>21</span></div></div>
<div class="m" style="left:1775px;top:2623px"><svg viewBox="0 0 61 21" preserveAspectRatio="none"><use href="#fD2"/></svg><i class="h" style="top:20px"></i><i class="h" style="top:215px"></i><i class="v" style="left:390px"></i><i class="v" style="left:781px"></i><i class="v" style="left:1171px"></i><i class="fr"></i><span class="la" style="top:8px">10°N</span><span class="la" style="top:203px">0°</span><span class="la" style="top:397px">10°S</span><span class="lo" style="left:0">180°</span><span class="lo" style="left:390px">160°W</span><span class="lo" style="left:781px">140°W</span><span class="lo" style="left:1171px">120°W</span><div class="cb"></div><div class="cl"><span>30</span><span>29</span><span>28</span><span>27</span><span>26</span><span>25</span><span>24</span><span>23</span><span>22</span><span>21</span></div></div>
<div class="m" style="left:1775px;top:3086px"><svg viewBox="0 0 61 21" preserveAspectRatio="none"><use href="#fD3"/></svg><i class="h" style="top:20px"></i><i class="h" style="top:215px"></i><i class="v" style="left:390px"></i><i class="v" style="left:781px"></i><i class="v" style="left:1171px"></i><i class="fr"></i><span class="la" style="top:8px">10°N</span><span class="la" style="top:203px">0°</span><span class="la" style="top:397px">10°S</span><span class="lo" style="left:0">180°</span><span class="lo" style="left:390px">160°W</span><span class="lo" style="left:781px">140°W</span><span class="lo" style="left:1171px">120°W</span><div class="cb"></div><div class="cl"><span>30</span><span>29</span><span>28</span><span>27</span><span>26</span><span>25</span><span>24</span><span>23</span><span>22</span><span>21</span></div></div>
<div class="m" style="left:1775px;top:3547px"><svg viewBox="0 0 61 21" preserveAspectRatio="none"><use href="#fB4"/></svg><i class="h" style="top:20px"></i><i class="h" style="top:215px"></i><i class="v" style="left:390px"></i><i class="v" style="left:781px"></i><i class="v" style="left:1171px"></i><i class="fr"></i><span class="la" style="top:8px">10°N</span><span class="la" style="top:203px">0°</span><span class="la" style="top:397px">10°S</span><span class="lo" style="left:0">180°</span><span class="lo" style="left:390px">160°W</span><span class="lo" style="left:781px">140°W</span><span class="lo" style="left:1171px">120°W</span><div class="cb"></div><div class="cl"><span>30</span><span>29</span><span>28</span><span>27</span><span>26</span><span>25</span><span>24</span><span>23</span><span>22</span><span>21</span></div></div>
</body></html>
